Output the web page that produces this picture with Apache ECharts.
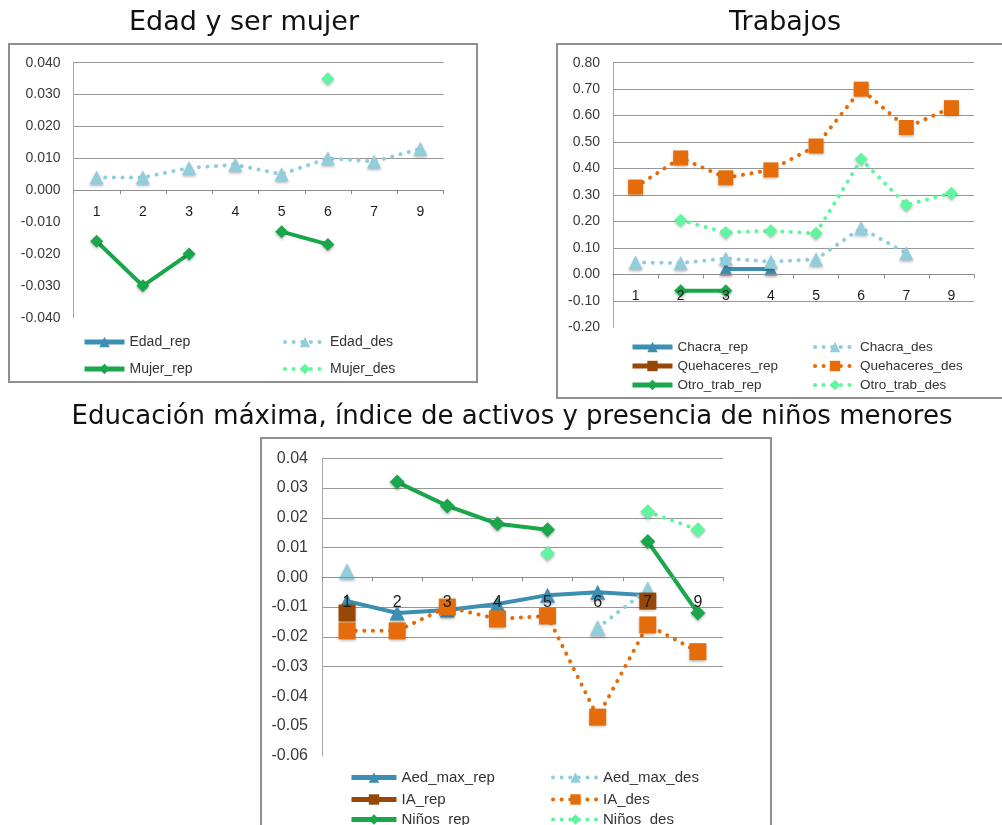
<!DOCTYPE html>
<html>
<head>
<meta charset="utf-8">
<script src="https://cdn.jsdelivr.net/npm/echarts@6/dist/echarts.min.js"></script>
<style>
  html, body { margin: 0; padding: 0; background: #fff; }
  #chart { width: 1002px; height: 825px; }
</style>
</head>
<body>
<div id="chart"></div>
<script>
// categories shared by the three panels
const cats = ['1', '2', '3', '4', '5', '6', '7', '9'];

// Edad y ser mujer
const edadRep = [null, null, null, null, null, null, null, null];
const edadDes = [0.004, 0.004, 0.007, 0.008, 0.005, 0.010, 0.009, 0.013];
const mujerRep = [-0.016, -0.030, -0.020, null, -0.013, -0.017, null, null];
const mujerDes = [null, null, null, null, null, 0.035, null, null];

// Trabajos
const chacraRep = [null, null, 0.02, 0.02, null, null, null, null];
const chacraDes = [0.045, 0.043, 0.06, 0.048, 0.057, 0.175, 0.08, null];
const quehRep = [null, null, null, null, null, null, null, null];
const quehDes = [0.33, 0.44, 0.365, 0.395, 0.485, 0.70, 0.555, 0.63];
const otroRep = [null, -0.062, -0.062, null, null, null, null, null];
const otroDes = [null, 0.205, 0.158, 0.165, 0.155, 0.435, 0.262, 0.307];

// Educación máxima, índice de activos y niños
const aedRep = [-0.008, -0.012, -0.011, -0.009, -0.006, -0.005, -0.006, null];
const aedDes = [0.002, null, null, null, null, -0.017, -0.004, null];
const iaRep = [-0.012, null, null, null, null, null, -0.008, null];
const iaDes = [-0.018, -0.018, -0.010, -0.014, -0.013, -0.047, -0.016, -0.025];
const ninosRep = [null, 0.032, 0.024, 0.018, 0.016, null, 0.012, -0.012];
const ninosDes = [null, null, null, null, 0.008, null, 0.022, 0.016];

// y ranges [min, max, interval]
const yRange1 = [-0.04, 0.04, 0.01];
const yRange2 = [-0.2, 0.8, 0.1];
const yRange3 = [-0.06, 0.04, 0.01];

const BLUE = '#3C8EB2', LBLUE = '#92CDDC';
const GREEN = '#1AA64A', LGREEN = '#62F5A0';
const BROWN = '#974806', ORANGE = '#E46C0A';
const FONT = 'Liberation Sans';
const GRID_C = '#979797', NONE = 'rgba(0,0,0,0)';
const DOTS = [0.1, 8.5];

function line(name, data, idx, dotted, symbol, color, size) {
  return {
    name: name, type: 'line', xAxisIndex: idx, yAxisIndex: idx,
    data: data, symbol: symbol, symbolSize: size, showSymbol: true,
    showAllSymbol: true, connectNulls: false,
    lineStyle: dotted
      ? { color: color, width: 4, type: DOTS, cap: 'round' }
      : { color: color, width: 4 },
    itemStyle: { color: color, shadowBlur: 3, shadowColor: 'rgba(0,0,0,0.3)', shadowOffsetY: 1.5 },
    emphasis: { disabled: true },
    animation: false
  };
}

// x axis drawn through y = 0 by shifting it up from the grid bottom
function xAx(idx, fs, margin, off) {
  return {
    type: 'category', gridIndex: idx, data: cats, boundaryGap: true, z: 5,
    position: 'bottom', offset: off,
    axisLine: { onZero: false, lineStyle: { color: '#8c8c8c', width: 1 } },
    axisTick: { show: true, length: 4, lineStyle: { color: '#8c8c8c' } },
    axisLabel: { fontSize: fs, color: '#1a1a1a', margin: margin, fontFamily: FONT },
    splitLine: { show: false }
  };
}

function yAx(idx, r, dec, fs, margin, lineColors) {
  return {
    type: 'value', gridIndex: idx, min: r[0], max: r[1], interval: r[2],
    axisLine: { show: true, lineStyle: { color: '#a6a6a6', width: 1 } },
    axisTick: { show: false },
    axisLabel: {
      fontSize: fs, color: '#3a3a3a', margin: margin, fontFamily: FONT,
      formatter: v => v.toFixed(dec)
    },
    splitLine: { show: true, lineStyle: { color: lineColors, width: 1 } }
  };
}

function leg(name, x, y, w, fs, dotted) {
  return {
    data: [name], left: x, top: y, padding: 0, itemGap: 0,
    itemWidth: w, itemHeight: 13, selectedMode: false,
    lineStyle: dotted ? { width: 4, type: DOTS, cap: 'round' } : { width: 5 },
    itemStyle: { shadowBlur: 0 },
    textStyle: { fontSize: fs, color: '#333', fontFamily: FONT }
  };
}

const g = (n) => Array(n).fill(GRID_C);

const option = {
  backgroundColor: '#fff',
  animation: false,
  graphic: [
    { type: 'rect', shape: { x: 9, y: 44, width: 468, height: 338 },
      style: { fill: 'none', stroke: '#8f8f8f', lineWidth: 2 }, z: -1 },
    { type: 'rect', shape: { x: 557, y: 44, width: 470, height: 354 },
      style: { fill: 'none', stroke: '#8f8f8f', lineWidth: 2 }, z: -1 },
    { type: 'rect', shape: { x: 261, y: 438, width: 510, height: 420 },
      style: { fill: 'none', stroke: '#8f8f8f', lineWidth: 2 }, z: -1 },
    { type: 'text', x: 244, y: 23,
      style: { text: 'Edad y ser mujer', font: '27px "DejaVu Sans"', fill: '#111', align: 'center', verticalAlign: 'middle' } },
    { type: 'text', x: 785, y: 23,
      style: { text: 'Trabajos', font: '27px "DejaVu Sans"', fill: '#111', align: 'center', verticalAlign: 'middle' } },
    { type: 'text', x: 512, y: 417,
      style: { text: 'Educación máxima, índice de activos y presencia de niños menores', font: '26px "DejaVu Sans"', fill: '#111', align: 'center', verticalAlign: 'middle' } }
  ],
  grid: [
    { left: 73.5, top: 62.7, width: 370, height: 255 },
    { left: 613, top: 62.7, width: 361, height: 264.6 },
    { left: 322, top: 458.3, width: 401, height: 297.5 }
  ],
  xAxis: [xAx(0, 14, 15, -127.5), xAx(1, 14, 15, -52.9), xAx(2, 16, 17, -178.5)],
  yAxis: [
    yAx(0, yRange1, 3, 14, 13, [NONE, NONE, NONE, NONE, GRID_C, GRID_C, GRID_C, GRID_C, GRID_C]),
    yAx(1, yRange2, 2, 14, 13, [NONE].concat(g(10))),
    yAx(2, yRange3, 2, 16, 14, [NONE, NONE, NONE].concat(g(8)))
  ],
  legend: [
    leg('Edad_rep', 82, 335, 40, 14, false),
    leg('Edad_des', 283, 335, 40, 14, true),
    leg('Mujer_rep', 82, 362, 40, 14, false),
    leg('Mujer_des', 283, 362, 40, 14, true),
    leg('Chacra_rep', 630, 340, 40, 13.5, false),
    leg('Chacra_des', 813, 340, 40, 13.5, true),
    leg('Quehaceres_rep', 630, 359, 40, 13.5, false),
    leg('Quehaceres_des', 813, 359, 40, 13.5, true),
    leg('Otro_trab_rep', 630, 378, 40, 13.5, false),
    leg('Otro_trab_des', 813, 378, 40, 13.5, true),
    leg('Aed_max_rep', 349, 770, 45, 15, false),
    leg('Aed_max_des', 551, 770, 45, 15, true),
    leg('IA_rep', 349, 792, 45, 15, false),
    leg('IA_des', 551, 792, 45, 15, true),
    leg('Niños_rep', 349, 812, 45, 15, false),
    leg('Niños_des', 551, 812, 45, 15, true)
  ],
  series: [
    line('Edad_rep', edadRep, 0, false, 'triangle', BLUE, 13),
    line('Edad_des', edadDes, 0, true, 'triangle', LBLUE, 14),
    line('Mujer_rep', mujerRep, 0, false, 'diamond', GREEN, 13),
    line('Mujer_des', mujerDes, 0, true, 'diamond', LGREEN, 13),

    line('Chacra_rep', chacraRep, 1, false, 'triangle', BLUE, 13),
    line('Chacra_des', chacraDes, 1, true, 'triangle', LBLUE, 14),
    line('Quehaceres_rep', quehRep, 1, false, 'rect', BROWN, 14),
    line('Quehaceres_des', quehDes, 1, true, 'rect', ORANGE, 15),
    line('Otro_trab_rep', otroRep, 1, false, 'diamond', GREEN, 13),
    line('Otro_trab_des', otroDes, 1, true, 'diamond', LGREEN, 13),

    line('Aed_max_rep', aedRep, 2, false, 'triangle', BLUE, 15),
    line('Aed_max_des', aedDes, 2, true, 'triangle', LBLUE, 16),
    line('IA_rep', iaRep, 2, false, 'rect', BROWN, 17),
    line('IA_des', iaDes, 2, true, 'rect', ORANGE, 17),
    line('Niños_rep', ninosRep, 2, false, 'diamond', GREEN, 15),
    line('Niños_des', ninosDes, 2, true, 'diamond', LGREEN, 15)
  ]
};

const chart = echarts.init(document.getElementById('chart'), null, { renderer: 'canvas' });
chart.setOption(option);
window.addEventListener('resize', () => chart.resize());
</script>
</body>
</html>
